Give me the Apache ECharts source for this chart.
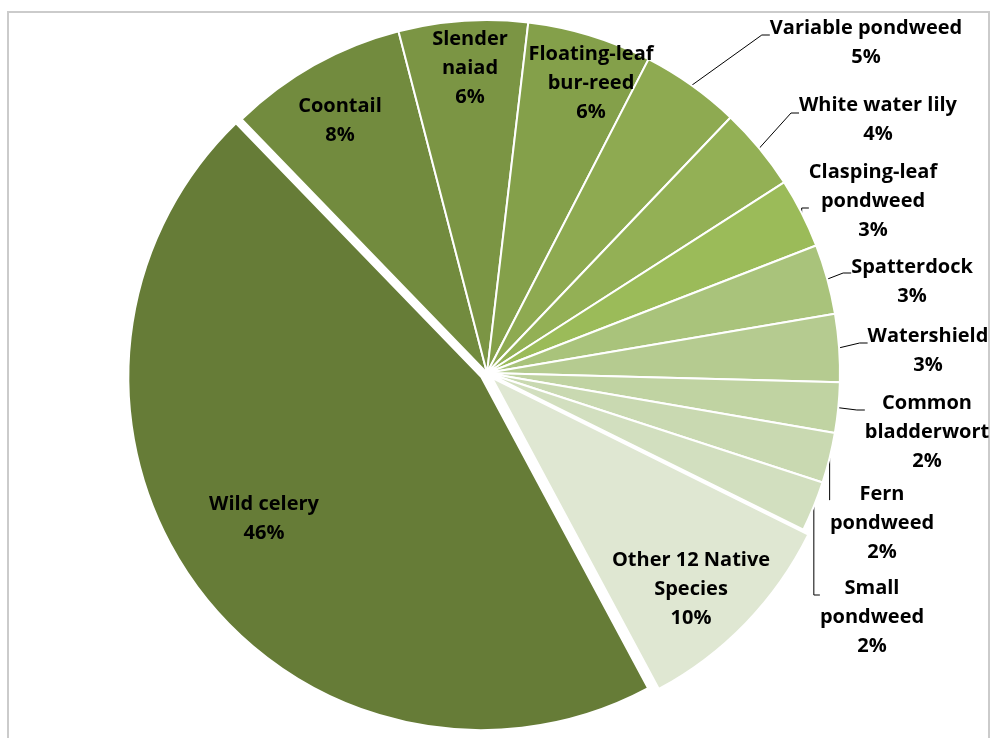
<!DOCTYPE html>
<html>
<head>
<meta charset="utf-8">
<script src="https://cdn.jsdelivr.net/npm/echarts@6/dist/echarts.min.js"></script>
<style>
    html, body { margin: 0; padding: 0; background: #fff; }
    #chart { width: 990px; height: 738px; }
</style>
</head>
<body>
<div id="chart"></div>
<script>
// species and their share of the plant survey
const species = [
    'Wild celery', 'Coontail', 'Slender\nnaiad', 'Floating-leaf\nbur-reed',
    'Variable pondweed', 'White water lily', 'Clasping-leaf\npondweed',
    'Spatterdock', 'Watershield', 'Common\nbladderwort', 'Fern\npondweed',
    'Small\npondweed', 'Other 12 Native\nSpecies'
];
const shares = [45.6, 8.2, 5.9, 5.7, 4.55, 3.8, 3.2, 3.2, 3.1, 2.3, 2.3, 2.3, 9.85];
const exploded = ['Wild celery', 'Other 12 Native\nSpecies'];
const insideLabels = ['Wild celery', 'Coontail', 'Slender\nnaiad', 'Floating-leaf\nbur-reed', 'Other 12 Native\nSpecies'];

// one shade per slice, dark olive to pale green
const colors = [
    '#667c37', '#728b3e', '#7b9544', '#84a04a', '#8eaa51', '#93b055', '#9bbb59',
    '#a9c37b', '#b5cb90', '#c0d3a2', '#c9d9b1', '#d2dfbf', '#dfe7d2'
];

// centre of each label block, and where the leader line meets it (relative to that centre)
const labelPos = [
    [264, 519], [340, 121], [470, 68], [591, 83], [866, 43], [878, 120],
    [873, 201], [912, 282], [928, 351], [927, 432], [882, 523], [872, 617], [691, 589]
];
const leaderDy = [0, 0, 0, 0, -8, -7, 7, -9, -8, -22, -23, -22, 0];

const center = [487, 373];
const radius = 353;
const startAngle = -61.8;
const lineH = 29;
const padBase = 150;

var dom = document.getElementById('chart');
var myChart = echarts.init(dom, null, { renderer: 'canvas' });

function blockHeight(i) {
    return (species[i].split('\n').length + 1) * lineH;
}

const option = {
    animation: false,
    graphic: [{
        type: 'rect',
        shape: { x: 8, y: 12, width: 981, height: 760 },
        style: { fill: 'none', stroke: '#cbcbcb', lineWidth: 2 },
        silent: true
    }],
    series: [
        {
            // the slices, two of them pulled out
            type: 'pie',
            center: center,
            radius: radius,
            startAngle: startAngle,
            clockwise: true,
            selectedMode: 'multiple',
            selectedOffset: 7,
            itemStyle: { borderColor: '#fff', borderWidth: 2 },
            select: { itemStyle: { borderColor: '#fff', borderWidth: 2 } },
            emphasis: { disabled: true },
            label: { show: false },
            labelLine: { show: false },
            data: species.map((name, i) => ({
                name: name,
                value: shares[i],
                selected: exploded.indexOf(name) >= 0,
                itemStyle: { color: colors[i] }
            }))
        },
        {
            // same pie again, invisible, carrying the labels and leader lines
            type: 'pie',
            silent: true,
            center: center,
            radius: radius,
            startAngle: startAngle,
            clockwise: true,
            avoidLabelOverlap: false,
            itemStyle: { color: 'rgba(0,0,0,0)', borderWidth: 0 },
            emphasis: { disabled: true },
            label: {
                show: true,
                formatter: p => p.name + '\n' + Math.round(p.percent) + '%',
                fontFamily: 'Open Sans',
                fontWeight: 'bold',
                fontSize: 20,
                lineHeight: lineH,
                color: '#000',
                align: 'center'
            },
            labelLine: {
                show: true,
                length: 20,
                length2: 8,
                lineStyle: { color: '#000', width: 1 }
            },
            labelLayout: function (params) {
                const i = params.dataIndex;
                const p = labelPos[i];
                const inside = insideLabels.indexOf(species[i]) >= 0;
                if (inside) {
                    return { x: p[0], y: p[1], align: 'center', verticalAlign: 'middle' };
                }
                // top-anchored box; the top padding pushes the text down to its place
                return {
                    x: p[0],
                    y: p[1] - blockHeight(i) / 2 - (padBase - leaderDy[i]),
                    align: 'center',
                    verticalAlign: 'top'
                };
            },
            data: species.map((name, i) => {
                const inside = insideLabels.indexOf(name) >= 0;
                const d = leaderDy[i];
                return {
                    name: name,
                    value: shares[i],
                    label: {
                        position: inside ? 'inside' : 'outside',
                        // uneven padding moves the point where the leader line attaches
                        padding: inside ? 0 : [padBase - d, 0, padBase + d, 0]
                    },
                    labelLine: { show: !inside }
                };
            })
        }
    ]
};

myChart.setOption(option);
window.addEventListener('resize', myChart.resize);
</script>
</body>
</html>
